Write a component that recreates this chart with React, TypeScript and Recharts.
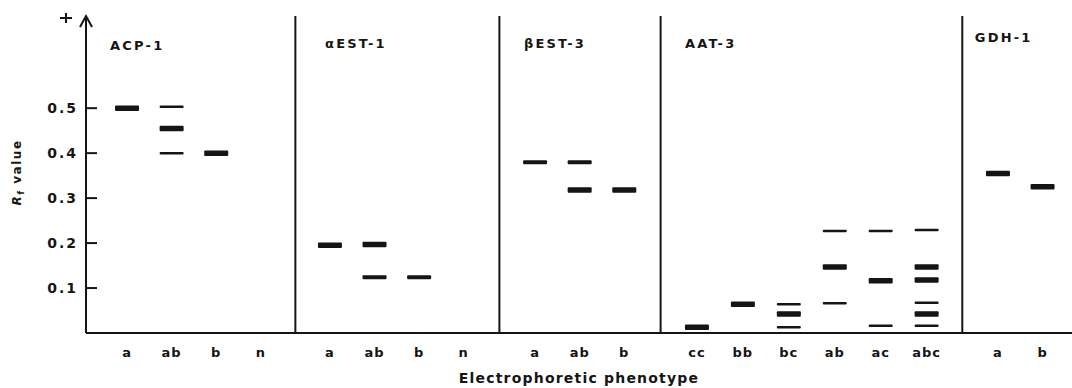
import React from 'react';
import { ComposedChart, Scatter, XAxis, YAxis, ReferenceLine, ReferenceDot } from 'recharts';

const panels = ['ACP-1', 'αEST-1', 'βEST-3', 'AAT-3', 'GDH-1'];

const phenotypes = [
  ['a', 'ab', 'b', 'n'],
  ['a', 'ab', 'b', 'n'],
  ['a', 'ab', 'b'],
  ['cc', 'bb', 'bc', 'ab', 'ac', 'abc'],
  ['a', 'b'],
];

// bands per lane: [Rf, stain] with stain 0 = faint, 1 = medium, 2 = strong
const acp1Bands = [
  [[0.5, 2]],
  [[0.503, 0], [0.455, 2], [0.4, 0]],
  [[0.4, 2]],
  [],
];
const aest1Bands = [
  [[0.195, 2]],
  [[0.197, 2], [0.124, 1]],
  [[0.124, 1]],
  [],
];
const best3Bands = [
  [[0.38, 1]],
  [[0.38, 1], [0.318, 2]],
  [[0.318, 2]],
];
const aat3Bands = [
  [[0.013, 2]],
  [[0.064, 2]],
  [[0.064, 0], [0.042, 2], [0.013, 0]],
  [[0.227, 0], [0.147, 2], [0.066, 0]],
  [[0.227, 0], [0.116, 2], [0.016, 0]],
  [[0.229, 0], [0.147, 2], [0.118, 2], [0.067, 0], [0.042, 2], [0.016, 0]],
];
const gdh1Bands = [
  [[0.355, 2]],
  [[0.325, 2]],
];

const yTicks = [0.1, 0.2, 0.3, 0.4, 0.5];

// layout
const INK = '#151515';
const FONT = '"DejaVu Sans", sans-serif';
const PANEL_GAP = [0, 1.55, 1.6, 1.63, 1.6];
const PANEL_STEP = [1, 1, 1, 1.03, 1];
const TITLE_SHIFT = [-0.38, -0.11, -0.25, -0.27, -0.52];
const TITLE_Y = [0.641, 0.645, 0.645, 0.645, 0.659];
const BAND_H = [2.5, 4, 5.5];

const bandSets = [acp1Bands, aest1Bands, best3Bands, aat3Bands, gdh1Bands];

const lanes: { x: number; label: string }[] = [];
const dividers: number[] = [];
const bands: { x: number; y: number; w: number }[] = [];
const titles: { x: number; y: number; name: string }[] = [];

let pos = 0;
phenotypes.forEach((list, p) => {
  if (p > 0) {
    pos += PANEL_GAP[p];
    dividers.push(pos - PANEL_GAP[p] / 2);
  }
  titles.push({ x: pos + TITLE_SHIFT[p], y: TITLE_Y[p], name: panels[p] });
  list.forEach((label, k) => {
    if (k > 0) pos += PANEL_STEP[p];
    lanes.push({ x: pos, label });
    bandSets[p][k].forEach(([rf, w]) => bands.push({ x: pos, y: rf, w }));
  });
});

const X_MIN = -0.92;
const X_MAX = 21.19;

const LaneTick = (props: any) => {
  const { x, y, payload } = props;
  const lane = lanes.find((l) => Math.abs(l.x - payload.value) < 1e-6);
  return (
    <text x={x} y={y + 22} textAnchor="middle" fontFamily={FONT} fontWeight="bold" fontSize={13} letterSpacing={1} fill={INK}>
      {lane ? lane.label : ''}
    </text>
  );
};

const RfTick = (props: any) => {
  const { x, y, payload } = props;
  const ax = x + 2;
  return (
    <g>
      <line x1={ax} x2={ax + 11} y1={y} y2={y} stroke={INK} strokeWidth={2} />
      <text x={ax - 8} y={y + 5} textAnchor="end" fontFamily={FONT} fontWeight="bold" fontSize={14} letterSpacing={2} fill={INK}>
        {payload.value.toFixed(1)}
      </text>
    </g>
  );
};

const XTitle = (props: any) => {
  const { viewBox } = props;
  return (
    <text x={viewBox.x + viewBox.width / 2} y={viewBox.y + 50} textAnchor="middle" fontFamily={FONT} fontWeight="bold" fontSize={14} letterSpacing={1.2} fill={INK}>
      Electrophoretic phenotype
    </text>
  );
};

const YTitle = (props: any) => {
  const { viewBox } = props;
  const cx = viewBox.x + 21;
  const cy = viewBox.y + viewBox.height / 2 - 2;
  return (
    <text x={cx} y={cy} transform={`rotate(-90, ${cx}, ${cy})`} textAnchor="middle" fontFamily={FONT} fontWeight="bold" fontSize={12} letterSpacing={1.5} fill={INK}>
      <tspan fontStyle="italic">R</tspan>
      <tspan fontSize={9} dy={3}>f</tspan>
      <tspan dy={-3}> value</tspan>
    </text>
  );
};

const Band = (props: any) => {
  const { cx, cy, payload } = props;
  const h = BAND_H[payload.w];
  return <rect x={cx - 12} y={cy - h / 2} width={24} height={h} rx={1} fill={INK} />;
};

const Title = (props: any) => {
  const { cx, cy, payload } = props;
  return (
    <text x={cx} y={cy + 5} fontFamily={FONT} fontWeight="bold" fontSize={13} letterSpacing={2.2} fill={INK}>
      {payload.name}
    </text>
  );
};

const Arrow = (props: any) => {
  const { cx, cy } = props;
  return (
    <g stroke={INK} strokeWidth={2} fill="none">
      <path d={`M${cx - 6},${cy + 11} L${cx},${cy} L${cx + 6},${cy + 11}`} />
      <line x1={cx - 26} x2={cx - 14} y1={cy + 2} y2={cy + 2} />
      <line x1={cx - 20} x2={cx - 20} y1={cy - 3} y2={cy + 7} />
    </g>
  );
};

export default function App() {
  return (
    <div style={{ position: 'absolute', left: 0, top: 0, width: 1072, height: 388, background: '#fff' }}>
      <ComposedChart width={1072} height={388} margin={{ top: 16, right: 0, bottom: 0, left: 0 }}>
        <XAxis
          type="number"
          dataKey="x"
          domain={[X_MIN, X_MAX]}
          allowDataOverflow
          ticks={lanes.map((l) => l.x)}
          interval={0}
          tickLine={false}
          tickSize={0}
          height={55}
          axisLine={{ stroke: INK, strokeWidth: 2 }}
          tick={<LaneTick />}
          label={{ content: <XTitle /> }}
        />
        <YAxis
          type="number"
          dataKey="y"
          domain={[0, 0.705]}
          allowDataOverflow
          ticks={yTicks}
          interval={0}
          width={86}
          tickLine={false}
          tickSize={0}
          axisLine={{ stroke: INK, strokeWidth: 2 }}
          tick={<RfTick />}
          label={{ content: <YTitle /> }}
        />
        {dividers.map((d) => (
          <ReferenceLine key={d} x={d} stroke={INK} strokeWidth={2} />
        ))}
        <ReferenceDot x={X_MIN} y={0.705} ifOverflow="visible" shape={<Arrow />} />
        <Scatter data={bands} shape={<Band />} isAnimationActive={false} />
        <Scatter data={titles} shape={<Title />} isAnimationActive={false} />
      </ComposedChart>
    </div>
  );
}
